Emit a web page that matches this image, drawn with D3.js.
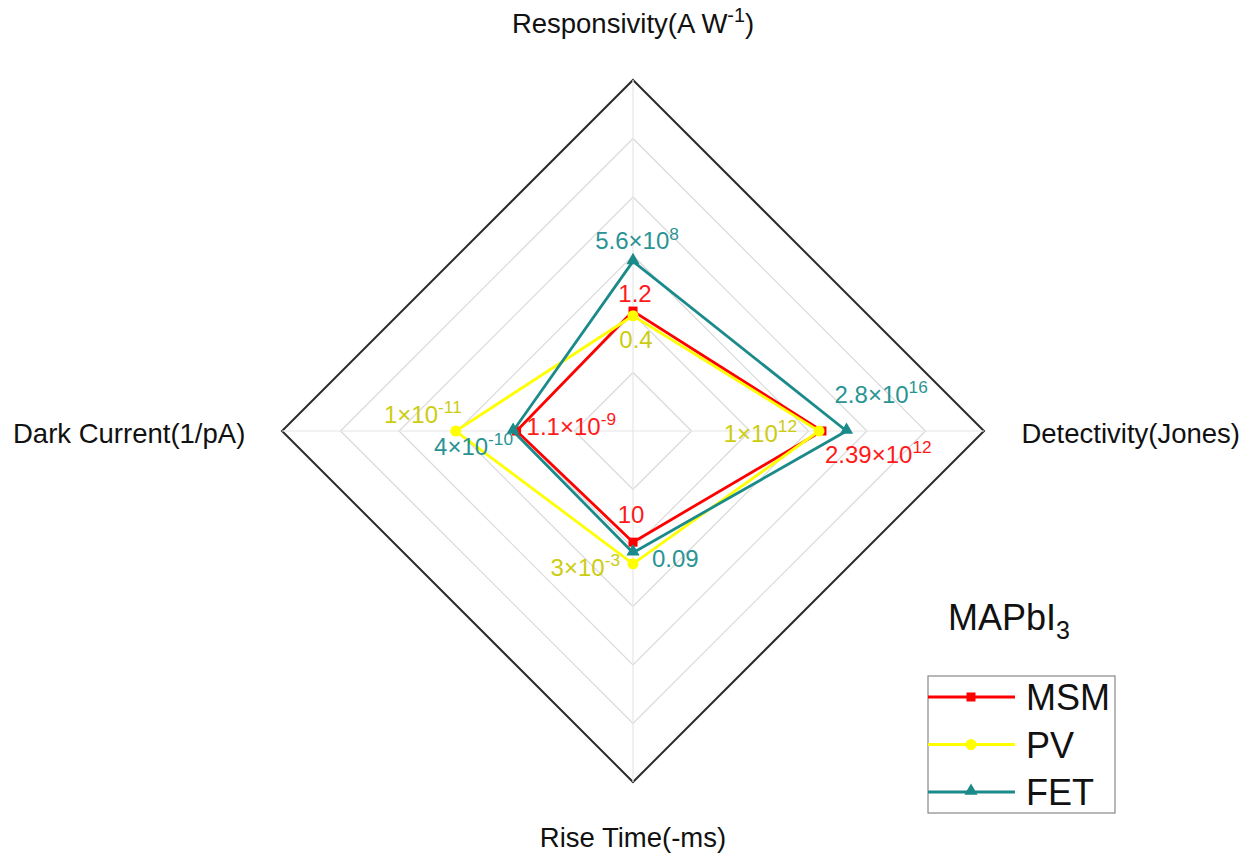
<!DOCTYPE html>
<html>
<head>
<meta charset="utf-8">
<script src="https://cdn.jsdelivr.net/npm/d3@7"></script>
<style>
    body { margin: 0; background: #fff; }
    text { font-family: "Liberation Sans", Arial, sans-serif; }
</style>
</head>
<body>
<svg id="chart" width="1250" height="859"></svg>
<script>
// axes, clockwise from top ("^" toggles superscript)
var axes = ["Responsivity(A W^-1^)", "Detectivity(Jones)", "Rise Time(-ms)", "Dark Current(1/pA)"]
var series = ["MSM", "PV", "FET"]

// radial position of each point (grid units 0..6)
var msmValues = [2.05, 3.23, 1.90, 1.99]
var pvValues  = [1.97, 3.18, 2.27, 3.03]
var fetValues = [2.90, 3.65, 2.08, 2.05]

// value annotations printed next to the points
var msmLabels = ["1.2", "2.39×10^12", "10", "1.1×10^-9"]
var pvLabels  = ["0.4", "1×10^12", "3×10^-3", "1×10^-11"]
var fetLabels = ["5.6×10^8", "2.8×10^16", "0.09", "4×10^-10"]

var gridLevels = [1, 2, 3, 4, 5, 6]

var cx = 633, cy = 431
var r = d3.scaleLinear().domain([0, 6]).range([0, 351])

var svg = d3.select("#chart")

function angle(i) { return -Math.PI / 2 + i * Math.PI / 2 }
function px(i, v) { return cx + r(v) * Math.cos(angle(i)) }
function py(i, v) { return cy + r(v) * Math.sin(angle(i)) }

// writes "a^b^c" as text, odd parts raised as superscript
function richText(sel, s, size)
{
    var parts = s.split("^")
    var raise = size * 0.4
    parts.forEach(function(p, k)
    {
        if(p == "") return
        var ts = sel.append("tspan").text(p)
        if(k % 2 == 1)
        {
            ts.attr("dy", -raise).attr("font-size", size * 0.72)
        }
        else if(k > 0)
        {
            ts.attr("dy", raise)
        }
    })
}

// grid rings
gridLevels.forEach(function(lv)
{
    var pts = axes.map(function(a, i){ return [px(i, lv), py(i, lv)] })
    svg.append("polygon")
        .attr("points", pts.map(function(p){ return p.join(",") }).join(" "))
        .attr("fill", "none")
        .attr("stroke", lv == 6 ? "#2b2b2b" : "#d9d9d9")
        .attr("stroke-width", lv == 6 ? 2 : 1.2)
})

// spokes
axes.forEach(function(a, i)
{
    svg.append("line")
        .attr("x1", cx).attr("y1", cy)
        .attr("x2", px(i, 6)).attr("y2", py(i, 6))
        .attr("stroke", "#e6e6e6")
        .attr("stroke-width", 1.2)
})

// axis titles
var axisPos = [
    {x: cx, y: 33, anchor: "middle"},
    {x: 1240, y: 443, anchor: "end"},
    {x: cx, y: 847, anchor: "middle"},
    {x: 13, y: 443, anchor: "start"}
]
axes.forEach(function(a, i)
{
    var t = svg.append("text")
        .attr("x", axisPos[i].x).attr("y", axisPos[i].y)
        .attr("text-anchor", axisPos[i].anchor)
        .attr("font-size", 27.5)
        .attr("fill", "#111")
    richText(t, a, 27.5)
})

var colors = {MSM: "#ff0000", PV: "#ffff00", FET: "#1b8a8a"}
var labelColors = {MSM: "#ff1a1a", PV: "#cccc10", FET: "#2a9494"}
var valuesBy = {MSM: msmValues, PV: pvValues, FET: fetValues}
var labelsBy = {MSM: msmLabels, PV: pvLabels, FET: fetLabels}

// label offsets from each point: [dx, dy, anchor]
var labelOffsets = {
    MSM: [[2, -9, "middle"], [3, 32, "start"], [-2, -19, "middle"], [10, 4, "start"]],
    PV:  [[3, 32, "middle"], [-22, 11, "end"], [-13, 12, "end"], [6, -8, "end"]],
    FET: [[4, -12, "middle"], [-12, -28, "start"], [19, 14, "start"], [0, 24, "end"]]
}

function drawMarker(g, name, x, y)
{
    if(name == "MSM")
    {
        g.append("rect").attr("x", x - 4.5).attr("y", y - 4.5)
            .attr("width", 9).attr("height", 9).attr("fill", colors[name])
    }
    else if(name == "PV")
    {
        g.append("circle").attr("cx", x).attr("cy", y).attr("r", 5.5).attr("fill", colors[name])
    }
    else
    {
        g.append("path")
            .attr("d", d3.symbol().type(d3.symbolTriangle).size(75))
            .attr("transform", "translate(" + x + "," + (y - 1) + ")")
            .attr("fill", colors[name])
    }
}

var line = d3.lineRadial()
    .angle(function(d, i){ return i * Math.PI / 2 })
    .radius(function(d){ return r(d) })
    .curve(d3.curveLinearClosed)

series.forEach(function(name)
{
    var g = svg.append("g")
    g.append("path")
        .datum(valuesBy[name])
        .attr("transform", "translate(" + cx + "," + cy + ")")
        .attr("d", line)
        .attr("fill", "none")
        .attr("stroke", colors[name])
        .attr("stroke-width", 2.8)
    valuesBy[name].forEach(function(v, i)
    {
        drawMarker(g, name, px(i, v), py(i, v))
    })
})

series.forEach(function(name)
{
    valuesBy[name].forEach(function(v, i)
    {
        var off = labelOffsets[name][i]
        var t = svg.append("text")
            .attr("x", px(i, v) + off[0])
            .attr("y", py(i, v) + off[1])
            .attr("text-anchor", off[2])
            .attr("font-size", 24)
            .attr("fill", labelColors[name])
        richText(t, labelsBy[name][i], 24)
    })
})

// title
var title = svg.append("text")
    .attr("x", 948).attr("y", 630)
    .attr("font-size", 36)
    .attr("fill", "#111")
title.append("tspan").text("MAPbI")
title.append("tspan").attr("dy", 9).attr("font-size", 25).text("3")

// legend
var lg = svg.append("g")
lg.append("rect")
    .attr("x", 928).attr("y", 676)
    .attr("width", 187).attr("height", 137)
    .attr("fill", "#fff")
    .attr("stroke", "#888")
    .attr("stroke-width", 1.2)
series.forEach(function(name, i)
{
    var y = 697 + i * 47.5
    lg.append("line")
        .attr("x1", 928).attr("x2", 1015)
        .attr("y1", y).attr("y2", y)
        .attr("stroke", colors[name])
        .attr("stroke-width", 2.8)
    drawMarker(lg, name, 971, y)
    lg.append("text")
        .attr("x", 1026).attr("y", y + 13)
        .attr("font-size", 36)
        .attr("fill", "#111")
        .text(name)
})
</script>
</body>
</html>
